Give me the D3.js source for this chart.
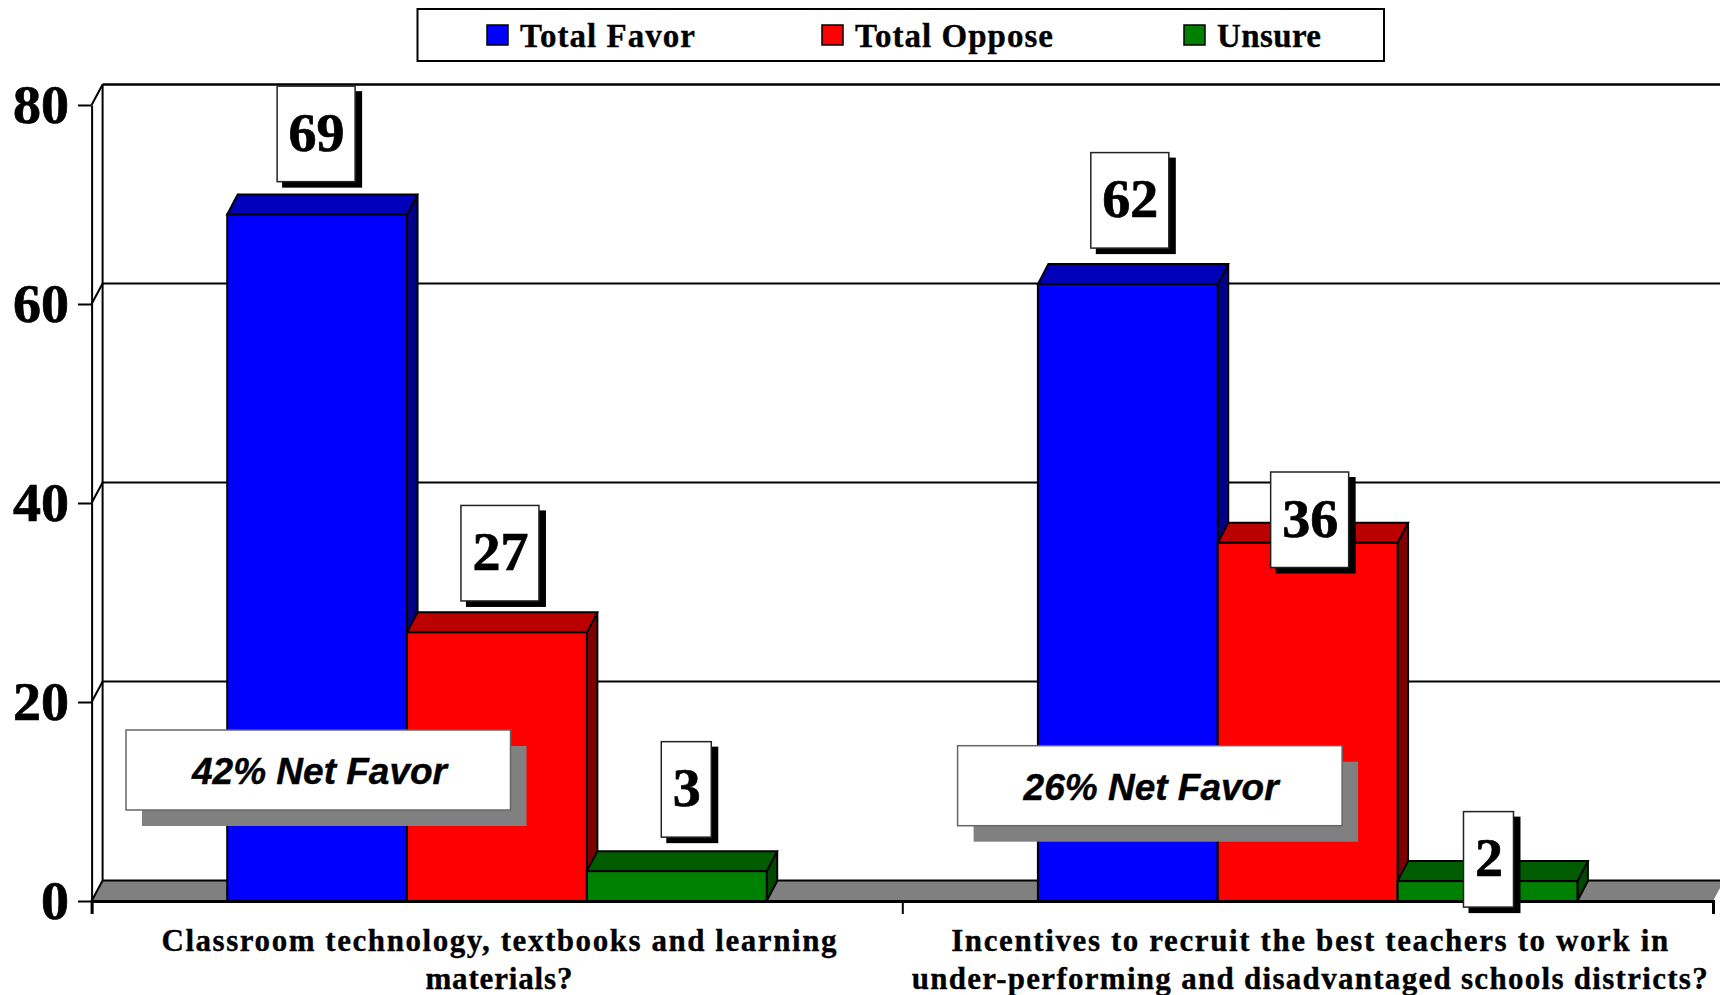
<!DOCTYPE html>
<html>
<head>
<meta charset="utf-8">
<script src="https://cdn.jsdelivr.net/npm/d3@7"></script>
<style>
    html, body { margin: 0; padding: 0; background: #fff; }
    svg { display: block; }
    .serif { font-family: "Liberation Serif", serif; font-weight: bold; fill: #000; stroke: #000; stroke-width: 0.35px; }
    .big { stroke-width: 0.7px; }
    .sans { font-family: "Liberation Sans", sans-serif; font-weight: bold; font-style: italic; fill: #000; stroke: #000; stroke-width: 0.4px; }
</style>
</head>
<body>
<script>
// values
var categories = ["Classroom", "Incentives"];
var categoryLines = [
    ["Classroom technology, textbooks and learning", "materials?"],
    ["Incentives to recruit the best teachers to work in", "under-performing and disadvantaged schools districts?"]
];
var seriesNames = ["Total Favor", "Total Oppose", "Unsure"];
var totalFavor = [69, 62];
var totalOppose = [27, 36];
var unsure = [3, 2];
var netFavor = [42, 26];
var yTicks = [0, 20, 40, 60, 80];

window.onload = function(){
    drawChart()
};

function drawChart(){
    var svg = d3.select("body").append("svg").attr("width", 1720).attr("height", 995);

    var left = 91.6, right = 1713, bottom = 901, top = 105;
    var depthX = 11, depthY = 20.5;         // offset of the 3d walls
    var barX = 10.5, barY = 20;             // offset of the 3d bars

    var colours = [
        {front: "#0000ff", top: "#0000bb", side: "#000088"},
        {front: "#ff0000", top: "#bb0000", side: "#800000"},
        {front: "#008000", top: "#005c00", side: "#004a00"}
    ];
    var allSeries = [totalFavor, totalOppose, unsure];

    var x0 = d3.scaleBand().domain(categories).range([left, right]);
    var x1 = d3.scaleBand().domain(seriesNames).range([0, x0.bandwidth()]).paddingInner(0).paddingOuter(0.754);
    var y = d3.scaleLinear().domain([0, 80]).range([bottom, top]);

    // floor
    svg.append("polygon")
        .attr("points", [[left, bottom], [left + depthX, bottom - depthY], [right + depthX, bottom - depthY], [right, bottom]].join(" "))
        .attr("fill", "#808080");
    svg.append("line")
        .attr("x1", left + depthX).attr("x2", 1720)
        .attr("y1", bottom - depthY).attr("y2", bottom - depthY)
        .attr("stroke", "#000").attr("stroke-width", 2);

    // back wall gridlines and the left wall diagonals
    svg.selectAll(".grid")
        .data(yTicks.slice(1))
        .enter()
        .append("line")
        .attr("class", "grid")
        .attr("x1", left + depthX).attr("x2", 1720)
        .attr("y1", function(d) { return y(d) - depthY; })
        .attr("y2", function(d) { return y(d) - depthY; })
        .attr("stroke", "#000")
        .attr("stroke-width", function(d) { return d == 80 ? 2.5 : 2; });

    svg.selectAll(".diag")
        .data(yTicks)
        .enter()
        .append("line")
        .attr("class", "diag")
        .attr("x1", left).attr("x2", left + depthX)
        .attr("y1", function(d) { return y(d); })
        .attr("y2", function(d) { return y(d) - depthY; })
        .attr("stroke", "#000").attr("stroke-width", 2);

    svg.append("line")
        .attr("x1", left + depthX).attr("x2", left + depthX)
        .attr("y1", top - depthY).attr("y2", bottom - depthY)
        .attr("stroke", "#000").attr("stroke-width", 2);

    // y axis
    var yAxis = svg.append("g")
        .attr("transform", "translate(" + left + ",0)")
        .call(d3.axisLeft(y).tickValues(yTicks).tickSize(13.6).tickPadding(9).tickSizeOuter(0));
    yAxis.selectAll("text")
        .attr("class", "serif big")
        .attr("textLength", function(d) { return String(d).length * 28; })
        .attr("lengthAdjust", "spacingAndGlyphs")
        .style("font-size", "54px");
    yAxis.selectAll("line, path").attr("stroke", "#000").attr("stroke-width", 2);

    // bars, one group per category, back to front
    categories.forEach(function(cat, c) {
        allSeries.forEach(function(values, s) {
            var x = x0(cat) + x1(seriesNames[s]);
            var w = x1.bandwidth();
            var t = y(values[c]);
            var g = svg.append("g").attr("stroke", "#000").attr("stroke-width", 2).attr("stroke-linejoin", "miter");

            g.append("polygon")
                .attr("points", [[x + w, t], [x + w + barX, t - barY], [x + w + barX, bottom - barY], [x + w, bottom]].join(" "))
                .attr("fill", colours[s].side);
            g.append("polygon")
                .attr("points", [[x, t], [x + barX, t - barY], [x + w + barX, t - barY], [x + w, t]].join(" "))
                .attr("fill", colours[s].top);
            g.append("rect")
                .attr("x", x).attr("y", t)
                .attr("width", w).attr("height", bottom - t)
                .attr("fill", colours[s].front);
        });
    });

    // x axis on top of the bar bottoms
    var xAxis = svg.append("g")
        .attr("transform", "translate(0," + bottom + ")")
        .call(d3.axisBottom(d3.scaleLinear().domain([0, 2]).range([left, right]))
            .tickValues([0, 1, 2]).tickSize(13).tickFormat(""));
    xAxis.selectAll("line").attr("stroke", "#000").attr("stroke-width", 2);
    xAxis.select("path").attr("stroke", "#000").attr("stroke-width", 3);

    // category labels, widths stretched like the original's loose spacing
    var lineWidths = [[675, 147], [717, 796]];
    var lineBase = [950.5, 989];
    categoryLines.forEach(function(lines, c) {
        lines.forEach(function(line, i) {
            svg.append("text")
                .attr("class", "serif")
                .attr("x", x0(categories[c]) + x0.bandwidth() / 2 + 2)
                .attr("y", lineBase[i])
                .attr("text-anchor", "middle")
                .attr("textLength", lineWidths[c][i])
                .attr("lengthAdjust", "spacing")
                .style("font-size", "31px")
                .text(line);
        });
    });

    // value callouts, hand placed in the original so each has its own nudge
    var boxH = 95.5;
    var gaps = [[12.8, 11.4, 14], [16, -44.7, -46]];
    var shifts = [[-1, 3, 9.5], [2, 2, 1]];
    categories.forEach(function(cat, c) {
        allSeries.forEach(function(values, s) {
            var label = String(values[c]);
            var w = label.length > 1 ? 78 : 50;
            var cx = x0(cat) + x1(seriesNames[s]) + x1.bandwidth() / 2 + shifts[c][s];
            var boxBottom = y(values[c]) - barY - gaps[c][s];

            svg.append("rect")
                .attr("x", cx - w / 2 + 5).attr("y", boxBottom - boxH + 5)
                .attr("width", w + 2).attr("height", boxH + 1)
                .attr("fill", "#000");
            svg.append("rect")
                .attr("x", cx - w / 2).attr("y", boxBottom - boxH)
                .attr("width", w).attr("height", boxH)
                .attr("fill", "#fff").attr("stroke", "#222").attr("stroke-width", 1.5);
            svg.append("text")
                .attr("class", "serif big")
                .attr("x", cx + 0.5)
                .attr("y", boxBottom - boxH / 2 + 17)
                .attr("text-anchor", "middle")
                .attr("textLength", label.length * 28)
                .attr("lengthAdjust", "spacingAndGlyphs")
                .style("font-size", "54px")
                .text(label);
        });
    });

    // net favor boxes
    var netX = [126, 957.6], netY = [730, 745.7];
    netFavor.forEach(function(d, c) {
        svg.append("rect")
            .attr("x", netX[c] + 16).attr("y", netY[c] + 16)
            .attr("width", 384.5).attr("height", 80)
            .attr("fill", "#808080");
        svg.append("rect")
            .attr("x", netX[c]).attr("y", netY[c])
            .attr("width", 384.5).attr("height", 80)
            .attr("fill", "#fff").attr("stroke", "#666").attr("stroke-width", 1.5);
        svg.append("text")
            .attr("class", "sans")
            .attr("x", netX[c] + 193.5)
            .attr("y", netY[c] + 54)
            .attr("text-anchor", "middle")
            .style("font-size", "37px")
            .text(d + "% Net Favor");
    });

    // legend
    var legendX = [487, 822, 1184], legendText = [175, 198, 104];
    var legend = svg.append("g");
    legend.append("rect")
        .attr("x", 417.5).attr("y", 9)
        .attr("width", 966.5).attr("height", 52)
        .attr("fill", "#fff").attr("stroke", "#000").attr("stroke-width", 2);
    seriesNames.forEach(function(name, i) {
        legend.append("rect")
            .attr("x", legendX[i]).attr("y", 25)
            .attr("width", 21).attr("height", 20)
            .attr("fill", colours[i].front)
            .attr("stroke", "#000").attr("stroke-width", 1.5);
        legend.append("text")
            .attr("class", "serif")
            .attr("x", legendX[i] + 33)
            .attr("y", 46.5)
            .attr("textLength", legendText[i])
            .attr("lengthAdjust", "spacing")
            .style("font-size", "33px")
            .text(name);
    });
}
</script>
</body>
</html>
